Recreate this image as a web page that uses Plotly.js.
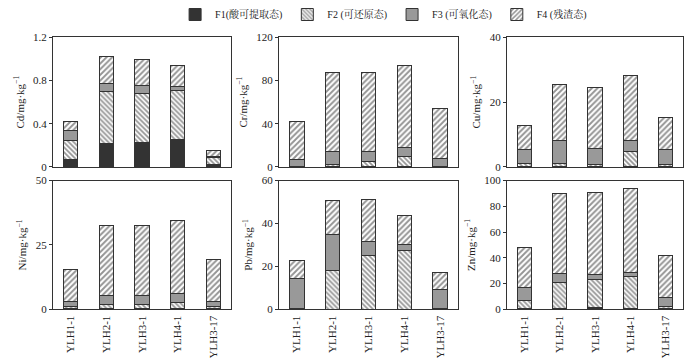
<!DOCTYPE html>
<html>
<head>
<meta charset="utf-8">
<script src="https://cdn.plot.ly/plotly-3.0.1.min.js"></script>
<style>html,body{margin:0;padding:0;background:#fff;}#chart{width:700px;height:358px;}</style>
</head>
<body>
<div id="chart"></div>
<script>
const categories = ['YLH1-1','YLH2-1','YLH3-1','YLH4-1','YLH3-17'];
const fractionNames = ['F1(酸可提取态)','F2 (可还原态)','F3 (可氧化态)','F4 (残渣态)'];

const cdF1 = [0.066,0.22,0.229,0.256,0.024];
const cdF2 = [0.18,0.475,0.448,0.454,0.06];
const cdF3 = [0.087,0.078,0.078,0.036,0.015];
const cdF4 = [0.085,0.247,0.24,0.192,0.055];

const crF1 = [0.2,0.2,0.2,0.2,0.2];
const crF2 = [0.5,2.4,5.2,9.1,0.6];
const crF3 = [6.5,11.5,9.3,9.0,7.0];
const crF4 = [34.9,73.7,72.8,75.5,46.3];

const cuF1 = [0.1,0.1,0.1,0.1,0.1];
const cuF2 = [1.0,1.0,0.8,4.7,0.8];
const cuF3 = [4.3,7.0,4.7,3.3,4.5];
const cuF4 = [7.3,17.4,18.9,20.2,10.0];

const niF1 = [0.3,0.2,0.2,0.2,0.3];
const niF2 = [0.7,1.7,1.6,2.4,0.7];
const niF3 = [2.0,3.6,3.4,3.7,2.1];
const niF4 = [12.5,26.9,27.2,28.0,16.1];

const pbF1 = [0.1,0.1,0.1,0.1,0.1];
const pbF2 = [0.2,18.0,24.8,27.3,0.2];
const pbF3 = [14.2,16.7,6.8,2.9,8.9];
const pbF4 = [8.1,15.7,19.4,13.6,7.7];

const znF1 = [0.4,0.4,1.5,0.4,0.4];
const znF2 = [6.2,20.4,22.0,25.4,2.1];
const znF3 = [10.1,6.8,3.8,3.1,6.6];
const znF4 = [30.9,62.5,63.8,65.0,32.7];

const panels = [
  {el:'Cd', data:[cdF1,cdF2,cdF3,cdF4], range:[0,1.2], dtick:0.4},
  {el:'Cr', data:[crF1,crF2,crF3,crF4], range:[0,120], dtick:40},
  {el:'Cu', data:[cuF1,cuF2,cuF3,cuF4], range:[0,40], dtick:20},
  {el:'Ni', data:[niF1,niF2,niF3,niF4], range:[0,50], dtick:25},
  {el:'Pb', data:[pbF1,pbF2,pbF3,pbF4], range:[0,60], dtick:20},
  {el:'Zn', data:[znF1,znF2,znF3,znF4], range:[0,100], dtick:20}
];

const FONT = 'Liberation Serif, Times New Roman, Noto Serif CJK SC, Noto Sans CJK SC, serif';
const LINE = '#333';
const styles = [
  {color:'#333333', pattern:{shape:''}},
  {color:'white', pattern:{shape:'\\', fgcolor:'#2a2a2a', bgcolor:'white', fillmode:'overlay', size:3.5, solidity:0.5}},
  {color:'#999999', pattern:{shape:''}},
  {color:'white', pattern:{shape:'/', fgcolor:'#2a2a2a', bgcolor:'white', fillmode:'overlay', size:4, solidity:0.48}}
];

const xDomains = [[0.0757,0.33],[0.3986,0.6543],[0.7243,0.9757]];
const yDomains = [[0.5475,0.919],[0.1397,0.5084]];

const traces = [];
const layout = {
  width:700, height:358,
  margin:{l:0,r:0,t:0,b:0},
  paper_bgcolor:'white', plot_bgcolor:'white',
  barmode:'stack', bargap:0.6,
  font:{family:FONT, size:11, color:'#222'},
  showlegend:true,
  legend:{orientation:'h', x:0.548, xanchor:'center', y:1.027, yanchor:'top',
          font:{family:FONT, size:10, color:'#222'}, itemwidth:30, tracegroupgap:0,
          traceorder:'normal'}
};

panels.forEach((p, i) => {
  const n = i + 1;
  const xa = n === 1 ? 'x' : 'x' + n;
  const ya = n === 1 ? 'y' : 'y' + n;
  p.data.forEach((vals, k) => {
    traces.push({
      type:'bar', x:categories, y:vals, name:fractionNames[k],
      xaxis:xa, yaxis:ya, legendgroup:'f'+k, showlegend:i===0,
      marker:{color:styles[k].color, pattern:styles[k].pattern, line:{color:LINE, width:1}},
      hoverinfo:'x+y+name'
    });
  });
  const col = i % 3, row = Math.floor(i / 3);
  const xkey = n === 1 ? 'xaxis' : 'xaxis' + n;
  const ykey = n === 1 ? 'yaxis' : 'yaxis' + n;
  layout[xkey] = {
    domain:xDomains[col], anchor:ya, type:'category',
    showline:true, mirror:true, linecolor:LINE, linewidth:1,
    ticks:'', showgrid:false, zeroline:false,
    showticklabels:row === 1, tickangle:-90, ticklabelstandoff:1,
    tickfont:{family:FONT, size:11, color:'#222'}
  };
  layout[ykey] = {
    domain:yDomains[row], anchor:xa, range:p.range, dtick:p.dtick, tick0:0,
    showline:true, mirror:true, linecolor:LINE, linewidth:1,
    ticks:'outside', ticklen:3, tickcolor:LINE, showgrid:false, zeroline:false,
    tickfont:{family:FONT, size:11, color:'#222'},
    title:{text:p.el + '/mg·kg<sup>−1</sup>', font:{family:FONT, size:11, color:'#222'}, standoff:6}
  };
});

Plotly.newPlot('chart', traces, layout, {displayModeBar:false, staticPlot:true});
</script>
</body>
</html>
